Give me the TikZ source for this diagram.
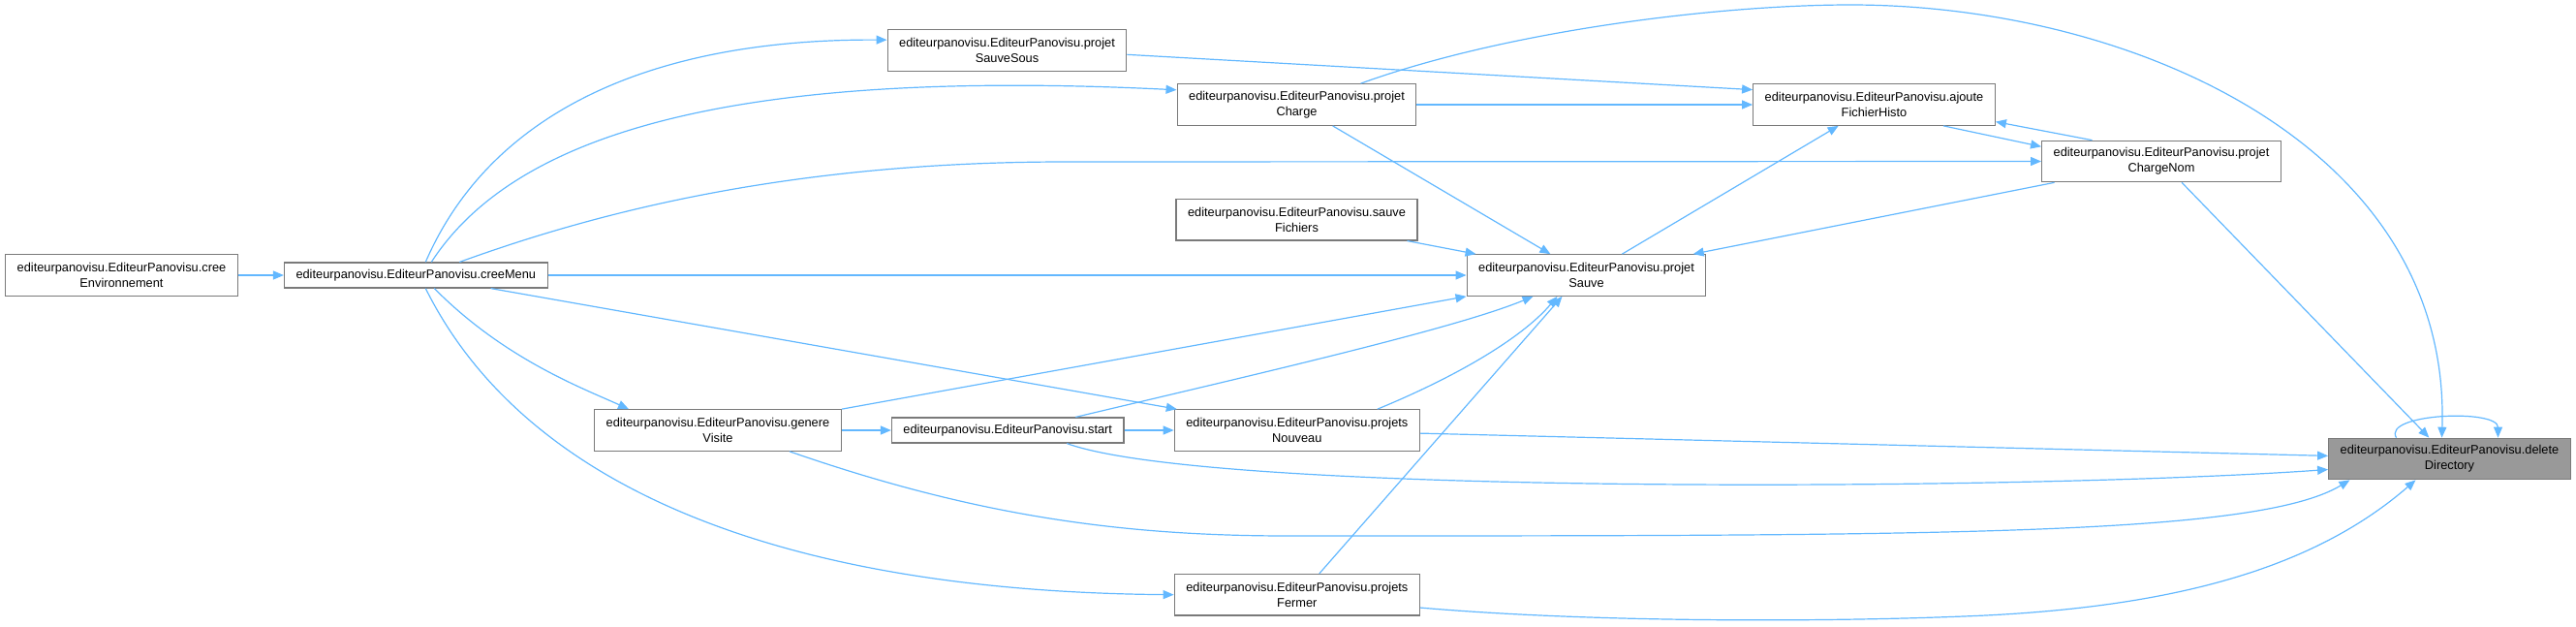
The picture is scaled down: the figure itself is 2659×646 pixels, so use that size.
\documentclass[tikz,border=0pt]{standalone}
\usepackage{fontspec}
\setmainfont{Liberation Sans}
\usetikzlibrary{arrows.meta,positioning}
\definecolor{edgeblue}{HTML}{63B8FF}
\definecolor{boxgray}{HTML}{7A7A7A}
\definecolor{fillgray}{HTML}{999999}

\begin{document}
\begin{tikzpicture}[x=1pt,y=-1pt,>={Triangle[length=11pt,width=9pt]},node distance=47pt]
  \tikzstyle{box}=[draw=boxgray,line width=1.2pt,fill=white,align=center,inner xsep=12pt,inner ysep=3pt,minimum height=42.5pt,font=\fontsize{12.8}{16}\selectfont]
  \tikzstyle{onebox}=[box,minimum height=26pt]
  \tikzstyle{call}=[draw=edgeblue,line width=1.2pt,->]
  \useasboundingbox (0,0) rectangle (2659,646);
  \node[box] (env) at (125.5,284) {editeurpanovisu.EditeurPanovisu.cree\\Environnement};
  \node[onebox,right=47pt of env] (menu) {editeurpanovisu.EditeurPanovisu.creeMenu};
  \node[box] (sauvesous) at (1039.5,52) {editeurpanovisu.EditeurPanovisu.projet\\SauveSous};
  \node[box] (charge) at (1338.5,108) {editeurpanovisu.EditeurPanovisu.projet\\Charge};
  \node[box,below=75pt of charge] (fichiers) {editeurpanovisu.EditeurPanovisu.sauve\\Fichiers};
  \node[box] (sauve) at (1637.5,284) {editeurpanovisu.EditeurPanovisu.projet\\Sauve};
  \node[box] (ajoute) at (1934.5,108) {editeurpanovisu.EditeurPanovisu.ajoute\\FichierHisto};
  \node[box] (chargenom) at (2231,166.5) {editeurpanovisu.EditeurPanovisu.projet\\ChargeNom};
  \node[box] (genere) at (741,444) {editeurpanovisu.EditeurPanovisu.genere\\Visite};
  \node[onebox,right=51pt of genere] (start) {editeurpanovisu.EditeurPanovisu.start};
  \node[box,right=51pt of start] (nouveau) {editeurpanovisu.EditeurPanovisu.projets\\Nouveau};
  \node[box,below=126pt of nouveau] (fermer) {editeurpanovisu.EditeurPanovisu.projets\\Fermer};
  \node[box,fill=fillgray] (delete) at (2528.5,473.5) {editeurpanovisu.EditeurPanovisu.delete\\Directory};

  \draw[call] (env) -- (menu);
  \draw[call] ([xshift=10pt]menu.north) .. controls (500,130) and (650,40) .. (sauvesous.175);
  \draw[call] ([xshift=16pt]menu.north) .. controls (530,140) and (750,70) .. (charge.173);
  \draw[call] ([xshift=45pt]menu.north) .. controls (600,225) and (800,167) .. (1100,167) -- (chargenom.west);
  \draw[call] (menu) -- (sauve);
  \draw[call] (menu) -- (nouveau);
  \draw[call] ([xshift=19pt]menu.south) .. controls (520,370) and (600,400) .. ([xshift=-92pt]genere.north);
  \draw[call] ([xshift=10pt]menu.south) .. controls (540,500) and (800,610) .. (fermer.west);
  \draw[call] (charge) -- (ajoute);
  \draw[call] (charge) -- (sauve);
  \draw[call] ([xshift=66pt]charge.north) .. controls (1560,30) and (1780,5) .. (1910,5) .. controls (2200,5) and (2530,150) .. ([xshift=-8pt]delete.north);
  \draw[call] (sauvesous.-2) -- (ajoute.173);
  \draw[call] (fichiers) -- (sauve);
  \draw[call] (sauve) -- (ajoute);
  \draw[call] (chargenom) -- (sauve);
  \draw[call] (ajoute.-17) -- (chargenom.173);
  \draw[call] (chargenom.163) -- (ajoute.-8);
  \draw[call] (chargenom) -- (delete);
  \draw[call] ([xshift=-55pt]delete.north) .. controls +(-15,-25) and +(0,-30) .. ([xshift=50pt]delete.north);
  \draw[call] (genere) -- (start);
  \draw[call] (start) -- (nouveau);
  \draw[call] (genere.north east) -- (sauve.south west);
  \draw[call] ([xshift=70pt]start.north) .. controls (1280,390) and (1500,340) .. ([xshift=-55pt]sauve.south);
  \draw[call] ([xshift=83pt]nouveau.north) .. controls (1500,390) and (1570,350) .. ([xshift=-30pt]sauve.south);
  \draw[call] ([xshift=23pt]fermer.north) -- ([xshift=-25pt]sauve.south);
  \draw[call] (nouveau) -- (delete);
  \draw[call] ([xshift=61pt]start.south) .. controls (1250,512) and (2100,506) .. (delete.185);
  \draw[call] ([xshift=74pt]genere.south) .. controls (1000,530) and (1150,553) .. (1330,553) .. controls (2000,553) and (2330,553) .. ([xshift=-103pt]delete.south);
  \draw[call] (fermer.-6.5) .. controls (1650,643) and (1900,642) .. (2050,635) .. controls (2250,625) and (2390,585) .. ([xshift=-35pt]delete.south);
\end{tikzpicture}
\end{document}
